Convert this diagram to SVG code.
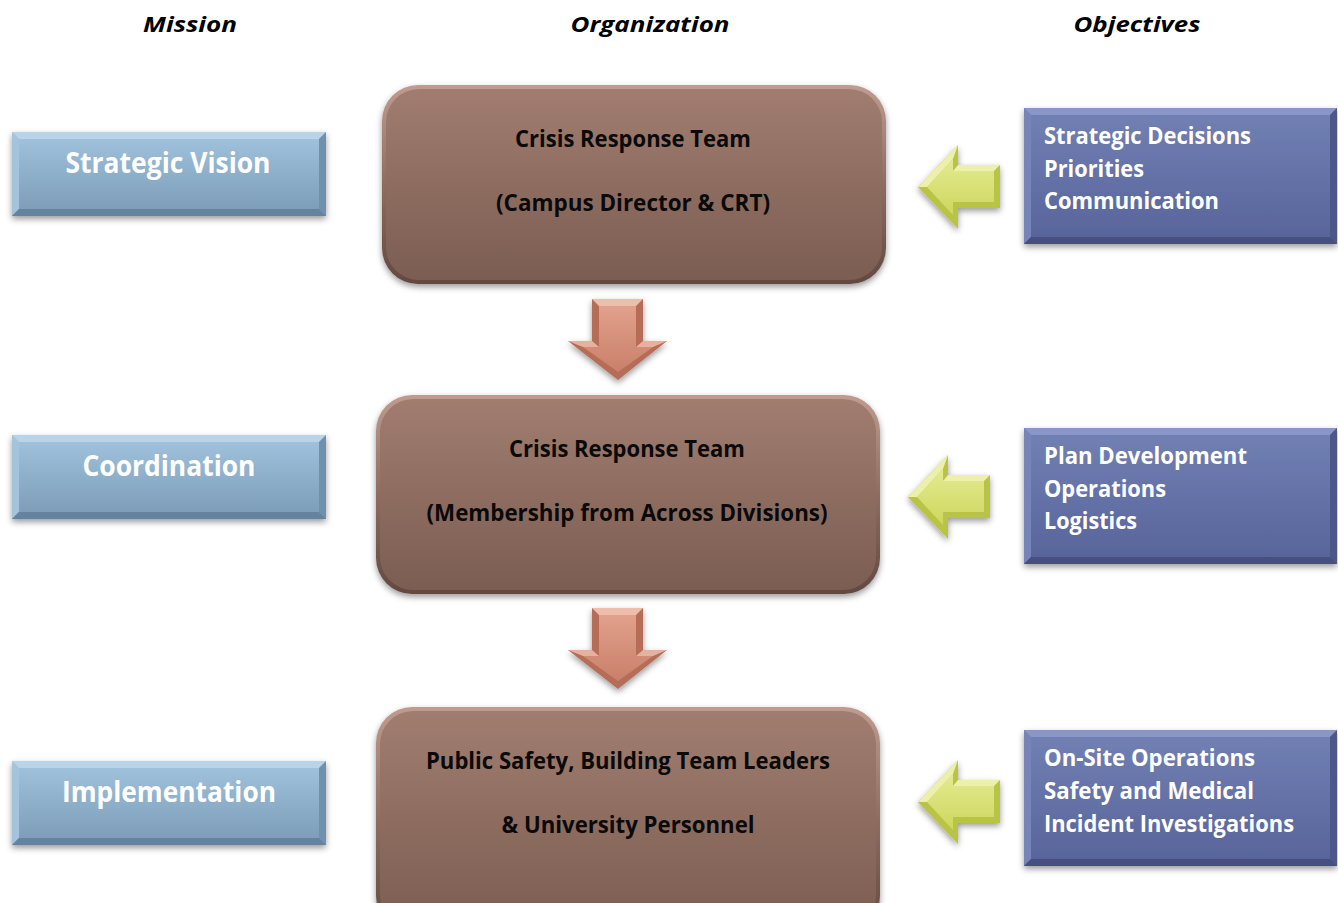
<svg xmlns="http://www.w3.org/2000/svg" xmlns:xlink="http://www.w3.org/1999/xlink" width="1338" height="903" viewBox="0 0 1338 903">
  <style>
    .hdr { font-family: "Open Sans", "Liberation Sans", sans-serif; font-weight: 700; font-style: italic; font-size: 22px; fill: #000; text-anchor: middle; }
    .mis { font-family: "Open Sans", "Liberation Sans", sans-serif; font-weight: 700; font-size: 28px; fill: #fff; text-anchor: middle; }
    .org { font-family: "Open Sans", "Liberation Sans", sans-serif; font-weight: 700; font-size: 23px; fill: #0a0a0a; text-anchor: middle; }
    .obj { font-family: "Open Sans", "Liberation Sans", sans-serif; font-weight: 700; font-size: 24px; fill: #fff; }
  </style>
  <defs>
    <filter id="shadow" x="-10%" y="-10%" width="120%" height="130%">
      <feDropShadow dx="0" dy="3" stdDeviation="3" flood-color="#000" flood-opacity="0.4"/>
    </filter>
    <linearGradient id="gMission" x1="0" y1="0" x2="0" y2="1">
      <stop offset="0" stop-color="#a3c4de"/>
      <stop offset="1" stop-color="#7a9ab6"/>
    </linearGradient>
    <linearGradient id="gObjective" x1="0" y1="0" x2="0" y2="1">
      <stop offset="0" stop-color="#7281b4"/>
      <stop offset="1" stop-color="#57639a"/>
    </linearGradient>
    <linearGradient id="gOrgRim" x1="0" y1="0" x2="0" y2="1">
      <stop offset="0" stop-color="#bf9c8f"/>
      <stop offset="0.5" stop-color="#8e6d61"/>
      <stop offset="1" stop-color="#634840"/>
    </linearGradient>
    <linearGradient id="gOrg" x1="0" y1="0" x2="0" y2="1">
      <stop offset="0" stop-color="#a07d6f"/>
      <stop offset="1" stop-color="#7c5d52"/>
    </linearGradient>
    <linearGradient id="gYellow" x1="0" y1="0" x2="0" y2="1">
      <stop offset="0" stop-color="#e4ea92"/>
      <stop offset="1" stop-color="#cdd75c"/>
    </linearGradient>
    <linearGradient id="gSalmon" x1="0" y1="0" x2="0" y2="1">
      <stop offset="0" stop-color="#e1a18c"/>
      <stop offset="1" stop-color="#c98069"/>
    </linearGradient>

    <!-- bevelled mission box, 314 x 84 -->
    <g id="missionBox">
      <rect x="0" y="0" width="314" height="84" fill="url(#gMission)"/>
      <polygon points="0,0 314,0 307,7 7,7" fill="#b9d3e8"/>
      <polygon points="0,0 7,7 7,77 0,84" fill="#a6c3dc"/>
      <polygon points="314,0 307,7 307,77 314,84" fill="#7091ad"/>
      <polygon points="0,84 314,84 307,77 7,77" fill="#64839e"/>
    </g>

    <!-- bevelled objective box, 313 x 136 -->
    <g id="objectiveBox">
      <rect x="0" y="0" width="313" height="136" fill="url(#gObjective)"/>
      <polygon points="0,0 313,0 306,7 7,7" fill="#8996c7"/>
      <polygon points="0,0 7,7 7,129 0,136" fill="#7684b7"/>
      <polygon points="313,0 306,7 306,129 313,136" fill="#4d588a"/>
      <polygon points="0,136 313,136 306,129 7,129" fill="#465081"/>
    </g>

    <!-- yellow left-pointing arrow, tip at (0,42) -->
    <g id="leftArrow">
      <polygon points="0,42 40,0 40,20 82,20 82,63 40,63 40,84" fill="#b9c345"/>
      <polygon points="9,42 35,14 35,26 76,26 76,57 35,57 35,70" fill="url(#gYellow)"/>
      <polygon points="0,42 40,0 35,14 9,42" fill="#ecf0ab"/>
      <polygon points="40,20 82,20 76,26 35,26" fill="#ecf0ab"/>
    </g>

    <!-- salmon down-pointing arrow, tip at (50,81) -->
    <g id="downArrow">
      <polygon points="24,0 75,0 75,42 99,42 50,81 0,42 24,42" fill="#b56d58"/>
      <polygon points="31,7 68,7 68,48 85,48 50,73 15,48 31,48" fill="url(#gSalmon)"/>
      <polygon points="24,0 75,0 68,7 31,7" fill="#efbdac"/>
      <polygon points="0,42 24,42 31,48 15,48" fill="#e8b19f"/>
      <polygon points="75,42 99,42 85,48 68,48" fill="#e8b19f"/>
    </g>
  </defs>

  <rect x="0" y="0" width="1338" height="903" fill="#ffffff"/>

  <!-- column headings -->
  <g id="headings">
    <text class="hdr" x="190" y="32" textLength="94" lengthAdjust="spacingAndGlyphs">Mission</text>
    <text class="hdr" x="650" y="32" textLength="159" lengthAdjust="spacingAndGlyphs">Organization</text>
    <text class="hdr" x="1137" y="32" textLength="127" lengthAdjust="spacingAndGlyphs">Objectives</text>
  </g>

  <!-- mission column -->
  <g id="mission-strategic-vision">
    <use xlink:href="#missionBox" x="12" y="132" filter="url(#shadow)"/>
    <text class="mis" x="168" y="173" textLength="205" lengthAdjust="spacingAndGlyphs">Strategic Vision</text>
  </g>
  <g id="mission-coordination">
    <use xlink:href="#missionBox" x="12" y="435" filter="url(#shadow)"/>
    <text class="mis" x="169" y="476" textLength="173" lengthAdjust="spacingAndGlyphs">Coordination</text>
  </g>
  <g id="mission-implementation">
    <use xlink:href="#missionBox" x="12" y="761" filter="url(#shadow)"/>
    <text class="mis" x="169" y="802" textLength="214" lengthAdjust="spacingAndGlyphs">Implementation</text>
  </g>

  <!-- organization column -->
  <g id="org-crt-director">
    <rect x="382" y="85" width="504" height="199" rx="36" fill="url(#gOrgRim)" filter="url(#shadow)"/>
    <rect x="386" y="89" width="496" height="191" rx="33" fill="url(#gOrg)"/>
    <text class="org" x="633" y="147" textLength="236" lengthAdjust="spacingAndGlyphs">Crisis Response Team</text>
    <text class="org" x="633" y="211" textLength="274" lengthAdjust="spacingAndGlyphs">(Campus Director &amp; CRT)</text>
  </g>
  <g id="org-crt-divisions">
    <rect x="376" y="395" width="504" height="199" rx="36" fill="url(#gOrgRim)" filter="url(#shadow)"/>
    <rect x="380" y="399" width="496" height="191" rx="33" fill="url(#gOrg)"/>
    <text class="org" x="627" y="457" textLength="236" lengthAdjust="spacingAndGlyphs">Crisis Response Team</text>
    <text class="org" x="627" y="521" textLength="401" lengthAdjust="spacingAndGlyphs">(Membership from Across Divisions)</text>
  </g>
  <g id="org-personnel">
    <rect x="376" y="707" width="504" height="225" rx="36" fill="url(#gOrgRim)" filter="url(#shadow)"/>
    <rect x="380" y="711" width="496" height="217" rx="33" fill="url(#gOrg)"/>
    <text class="org" x="628" y="769" textLength="404" lengthAdjust="spacingAndGlyphs">Public Safety, Building Team Leaders</text>
    <text class="org" x="628" y="833" textLength="253" lengthAdjust="spacingAndGlyphs">&amp; University Personnel</text>
  </g>

  <!-- objectives column -->
  <g id="obj-strategic">
    <use xlink:href="#objectiveBox" x="1024" y="108" filter="url(#shadow)"/>
    <text class="obj" x="1044" y="144" textLength="207" lengthAdjust="spacingAndGlyphs">Strategic Decisions</text>
    <text class="obj" x="1044" y="177" textLength="100" lengthAdjust="spacingAndGlyphs">Priorities</text>
    <text class="obj" x="1044" y="209" textLength="175" lengthAdjust="spacingAndGlyphs">Communication</text>
  </g>
  <g id="obj-planning">
    <use xlink:href="#objectiveBox" x="1024" y="428" filter="url(#shadow)"/>
    <text class="obj" x="1044" y="464" textLength="203" lengthAdjust="spacingAndGlyphs">Plan Development</text>
    <text class="obj" x="1044" y="497" textLength="122" lengthAdjust="spacingAndGlyphs">Operations</text>
    <text class="obj" x="1044" y="529" textLength="93" lengthAdjust="spacingAndGlyphs">Logistics</text>
  </g>
  <g id="obj-onsite">
    <use xlink:href="#objectiveBox" x="1024" y="730" filter="url(#shadow)"/>
    <text class="obj" x="1044" y="766" textLength="211" lengthAdjust="spacingAndGlyphs">On-Site Operations</text>
    <text class="obj" x="1044" y="799" textLength="210" lengthAdjust="spacingAndGlyphs">Safety and Medical</text>
    <text class="obj" x="1044" y="832" textLength="250" lengthAdjust="spacingAndGlyphs">Incident Investigations</text>
  </g>

  <!-- connectors: flow arrows -->
  <g id="connectors">
    <use xlink:href="#downArrow" x="568" y="299" filter="url(#shadow)"/>
    <use xlink:href="#downArrow" x="568" y="608" filter="url(#shadow)"/>
    <use xlink:href="#leftArrow" x="918" y="145" filter="url(#shadow)"/>
    <use xlink:href="#leftArrow" x="908" y="455" filter="url(#shadow)"/>
    <use xlink:href="#leftArrow" x="918" y="760" filter="url(#shadow)"/>
  </g>
</svg>
